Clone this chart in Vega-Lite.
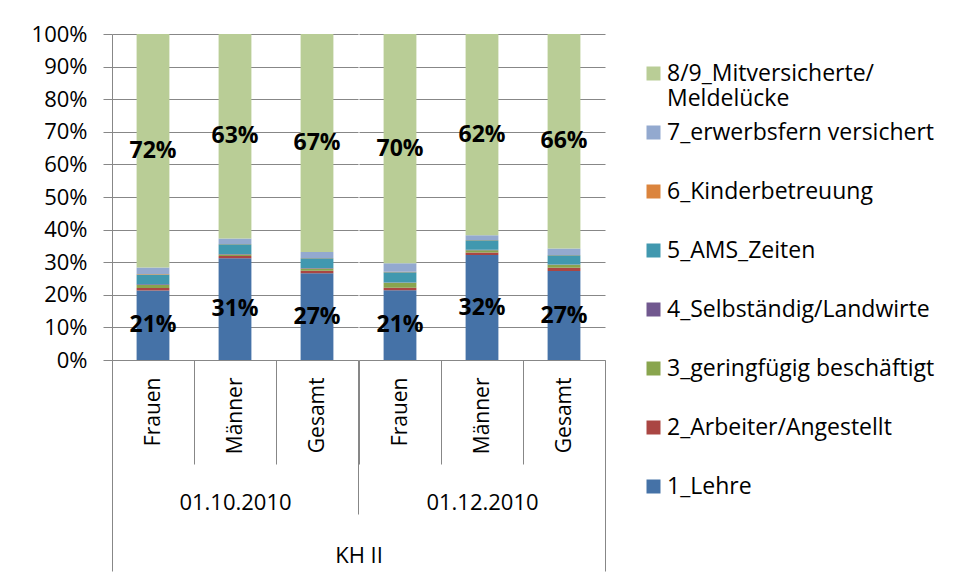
{
  "$schema": "https://vega.github.io/schema/vega-lite/v6.json",
  "padding": {"left": 31, "top": 23, "right": 0, "bottom": 0},
  "background": "white",
  "config": {
    "font": "Open Sans",
    "view": {"stroke": null}
  },
  "data": {"values": [
    {"date": "01.10.2010", "gender": "Frauen", "cat": "1_Lehre", "value": 0.213},
    {"date": "01.10.2010", "gender": "Frauen", "cat": "2_Arbeiter/Angestellt", "value": 0.008},
    {"date": "01.10.2010", "gender": "Frauen", "cat": "3_geringfügig beschäftigt", "value": 0.009},
    {"date": "01.10.2010", "gender": "Frauen", "cat": "4_Selbständig/Landwirte", "value": 0.002},
    {"date": "01.10.2010", "gender": "Frauen", "cat": "5_AMS_Zeiten", "value": 0.030},
    {"date": "01.10.2010", "gender": "Frauen", "cat": "6_Kinderbetreuung", "value": 0.002},
    {"date": "01.10.2010", "gender": "Frauen", "cat": "7_erwerbsfern versichert", "value": 0.020},
    {"date": "01.10.2010", "gender": "Frauen", "cat": "8/9_Mitversicherte/ Meldelücke", "value": 0.716},
    {"date": "01.10.2010", "gender": "Männer", "cat": "1_Lehre", "value": 0.312},
    {"date": "01.10.2010", "gender": "Männer", "cat": "2_Arbeiter/Angestellt", "value": 0.007},
    {"date": "01.10.2010", "gender": "Männer", "cat": "3_geringfügig beschäftigt", "value": 0.005},
    {"date": "01.10.2010", "gender": "Männer", "cat": "4_Selbständig/Landwirte", "value": 0.001},
    {"date": "01.10.2010", "gender": "Männer", "cat": "5_AMS_Zeiten", "value": 0.030},
    {"date": "01.10.2010", "gender": "Männer", "cat": "6_Kinderbetreuung", "value": 0.001},
    {"date": "01.10.2010", "gender": "Männer", "cat": "7_erwerbsfern versichert", "value": 0.017},
    {"date": "01.10.2010", "gender": "Männer", "cat": "8/9_Mitversicherte/ Meldelücke", "value": 0.627},
    {"date": "01.10.2010", "gender": "Gesamt", "cat": "1_Lehre", "value": 0.266},
    {"date": "01.10.2010", "gender": "Gesamt", "cat": "2_Arbeiter/Angestellt", "value": 0.008},
    {"date": "01.10.2010", "gender": "Gesamt", "cat": "3_geringfügig beschäftigt", "value": 0.007},
    {"date": "01.10.2010", "gender": "Gesamt", "cat": "4_Selbständig/Landwirte", "value": 0.001},
    {"date": "01.10.2010", "gender": "Gesamt", "cat": "5_AMS_Zeiten", "value": 0.030},
    {"date": "01.10.2010", "gender": "Gesamt", "cat": "6_Kinderbetreuung", "value": 0.001},
    {"date": "01.10.2010", "gender": "Gesamt", "cat": "7_erwerbsfern versichert", "value": 0.018},
    {"date": "01.10.2010", "gender": "Gesamt", "cat": "8/9_Mitversicherte/ Meldelücke", "value": 0.669},
    {"date": "01.12.2010", "gender": "Frauen", "cat": "1_Lehre", "value": 0.214},
    {"date": "01.12.2010", "gender": "Frauen", "cat": "2_Arbeiter/Angestellt", "value": 0.008},
    {"date": "01.12.2010", "gender": "Frauen", "cat": "3_geringfügig beschäftigt", "value": 0.015},
    {"date": "01.12.2010", "gender": "Frauen", "cat": "4_Selbständig/Landwirte", "value": 0.001},
    {"date": "01.12.2010", "gender": "Frauen", "cat": "5_AMS_Zeiten", "value": 0.031},
    {"date": "01.12.2010", "gender": "Frauen", "cat": "6_Kinderbetreuung", "value": 0.002},
    {"date": "01.12.2010", "gender": "Frauen", "cat": "7_erwerbsfern versichert", "value": 0.026},
    {"date": "01.12.2010", "gender": "Frauen", "cat": "8/9_Mitversicherte/ Meldelücke", "value": 0.703},
    {"date": "01.12.2010", "gender": "Männer", "cat": "1_Lehre", "value": 0.322},
    {"date": "01.12.2010", "gender": "Männer", "cat": "2_Arbeiter/Angestellt", "value": 0.008},
    {"date": "01.12.2010", "gender": "Männer", "cat": "3_geringfügig beschäftigt", "value": 0.007},
    {"date": "01.12.2010", "gender": "Männer", "cat": "4_Selbständig/Landwirte", "value": 0.001},
    {"date": "01.12.2010", "gender": "Männer", "cat": "5_AMS_Zeiten", "value": 0.029},
    {"date": "01.12.2010", "gender": "Männer", "cat": "6_Kinderbetreuung", "value": 0.001},
    {"date": "01.12.2010", "gender": "Männer", "cat": "7_erwerbsfern versichert", "value": 0.015},
    {"date": "01.12.2010", "gender": "Männer", "cat": "8/9_Mitversicherte/ Meldelücke", "value": 0.617},
    {"date": "01.12.2010", "gender": "Gesamt", "cat": "1_Lehre", "value": 0.273},
    {"date": "01.12.2010", "gender": "Gesamt", "cat": "2_Arbeiter/Angestellt", "value": 0.010},
    {"date": "01.12.2010", "gender": "Gesamt", "cat": "3_geringfügig beschäftigt", "value": 0.009},
    {"date": "01.12.2010", "gender": "Gesamt", "cat": "4_Selbständig/Landwirte", "value": 0.001},
    {"date": "01.12.2010", "gender": "Gesamt", "cat": "5_AMS_Zeiten", "value": 0.028},
    {"date": "01.12.2010", "gender": "Gesamt", "cat": "6_Kinderbetreuung", "value": 0.001},
    {"date": "01.12.2010", "gender": "Gesamt", "cat": "7_erwerbsfern versichert", "value": 0.020},
    {"date": "01.12.2010", "gender": "Gesamt", "cat": "8/9_Mitversicherte/ Meldelücke", "value": 0.658}
  ]},
  "title": {"text": "KH II", "orient": "bottom", "anchor": "middle", "fontSize": 22, "fontWeight": "normal", "color": "black", "offset": -26, "dx": -124},
  "spacing": -13,
  "resolve": {"scale": {"color": "shared"}, "legend": {"color": "shared"}},
  "hconcat": [
    {
      "width": 246, "height": 326,
      "transform": [{"filter": "datum.date == '01.10.2010'"}],
      "encoding": {
        "x": {"field": "gender", "type": "nominal", "sort": ["Frauen", "Männer", "Gesamt"],
          "scale": {"paddingInner": 0, "paddingOuter": 0},
          "axis": {"title": "01.10.2010", "titleFontSize": 22, "titleFontWeight": "normal", "titleColor": "black", "titleY": 142, "titleBaseline": "middle",
            "labelAngle": 270, "labelFontSize": 21, "labelColor": "black",
            "tickBand": "extent", "tickColor": "#878787", "domainColor": "#878787",
            "tickSize": {"expr": "datum.index < 0 ? 211 : (datum.index == 1 ? 154 : 104)"},
            "labelPadding": {"expr": "datum.index == 1 ? -137 : -87"}}},
        "y": {"field": "value", "type": "quantitative",
          "scale": {"domain": [0, 1], "nice": false},
          "axis": {"title": null, "format": ".0%", "values": [0, 0.1, 0.2, 0.3, 0.4, 0.5, 0.6, 0.7, 0.8, 0.9, 1], "labelOverlap": false,
            "labelFontSize": 22, "labelColor": "black", "tickSize": 9, "labelPadding": 16,
            "tickColor": "#878787", "domainColor": "#878787", "gridColor": "#878787", "grid": true}}
      },
      "layer": [
        {
          "mark": {"type": "bar", "width": {"band": 0.4}},
          "encoding": {
            "color": {"field": "cat", "type": "nominal",
              "scale": {"domain": ["8/9_Mitversicherte/ Meldelücke", "7_erwerbsfern versichert", "6_Kinderbetreuung", "5_AMS_Zeiten", "4_Selbständig/Landwirte", "3_geringfügig beschäftigt", "2_Arbeiter/Angestellt", "1_Lehre"],
                "range": ["#B9CD96", "#93A9CF", "#DB843D", "#4198AF", "#71588F", "#89A54E", "#AA4643", "#4572A7"]},
              "legend": {"title": null, "orient": "none", "legendX": 530, "legendY": 28, "symbolType": "square", "symbolSize": 196, "symbolStrokeWidth": 0,
                "labelFontSize": 23, "labelColor": "black", "labelLimit": 400, "labelOffset": 2, "rowPadding": 10, "gridAlign": "all",
                "labelExpr": "datum.label == '8/9_Mitversicherte/ Meldelücke' ? ['8/9_Mitversicherte/', 'Meldelücke'] : datum.label"}},
            "order": {"field": "cat", "type": "ordinal", "sort": "ascending"}
          }
        },
        {
          "transform": [
            {"stack": "value", "groupby": ["date", "gender"], "sort": [{"field": "cat", "order": "ascending"}], "as": ["y0", "y1"]},
            {"filter": {"field": "cat", "oneOf": ["1_Lehre", "8/9_Mitversicherte/ Meldelücke"]}},
            {"joinaggregate": [{"op": "max", "field": "value", "as": "seg"}], "groupby": ["gender", "cat"]},
            {"fold": ["y0", "y1"], "as": ["edge", "value"]},
            {"aggregate": [{"op": "mean", "field": "value", "as": "value"}, {"op": "max", "field": "seg", "as": "seg"}], "groupby": ["gender", "cat"]}
          ],
          "mark": {"type": "text", "fontWeight": "bold", "fontSize": 23, "color": "black"},
          "encoding": {
            "text": {"field": "seg", "type": "quantitative", "format": ".0%"}
          }
        }
      ]
    },
    {
      "width": 246, "height": 326,
      "transform": [{"filter": "datum.date == '01.12.2010'"}],
      "encoding": {
        "x": {"field": "gender", "type": "nominal", "sort": ["Frauen", "Männer", "Gesamt"],
          "scale": {"paddingInner": 0, "paddingOuter": 0},
          "axis": {"title": "01.12.2010", "titleFontSize": 22, "titleFontWeight": "normal", "titleColor": "black", "titleY": 142, "titleBaseline": "middle",
            "labelAngle": 270, "labelFontSize": 21, "labelColor": "black",
            "tickBand": "extent", "tickColor": "#878787", "domainColor": "#878787",
            "tickSize": {"expr": "datum.index == 1 ? 211 : 104"},
            "labelPadding": {"expr": "datum.index == 1 ? -194 : -87"}}},
        "y": {"field": "value", "type": "quantitative",
          "scale": {"domain": [0, 1], "nice": false},
          "axis": {"title": "", "labels": false, "ticks": false, "domain": false, "domainOpacity": 0, "tickCount": 10, "gridColor": "#878787", "grid": true}}
      },
      "layer": [
        {
          "mark": {"type": "bar", "width": {"band": 0.4}},
          "encoding": {
            "color": {"field": "cat", "type": "nominal"},
            "order": {"field": "cat", "type": "ordinal", "sort": "ascending"}
          }
        },
        {
          "transform": [
            {"stack": "value", "groupby": ["date", "gender"], "sort": [{"field": "cat", "order": "ascending"}], "as": ["y0", "y1"]},
            {"filter": {"field": "cat", "oneOf": ["1_Lehre", "8/9_Mitversicherte/ Meldelücke"]}},
            {"joinaggregate": [{"op": "max", "field": "value", "as": "seg"}], "groupby": ["gender", "cat"]},
            {"fold": ["y0", "y1"], "as": ["edge", "value"]},
            {"aggregate": [{"op": "mean", "field": "value", "as": "value"}, {"op": "max", "field": "seg", "as": "seg"}], "groupby": ["gender", "cat"]}
          ],
          "mark": {"type": "text", "fontWeight": "bold", "fontSize": 23, "color": "black"},
          "encoding": {
            "text": {"field": "seg", "type": "quantitative", "format": ".0%"}
          }
        }
      ]
    }
  ]
}
